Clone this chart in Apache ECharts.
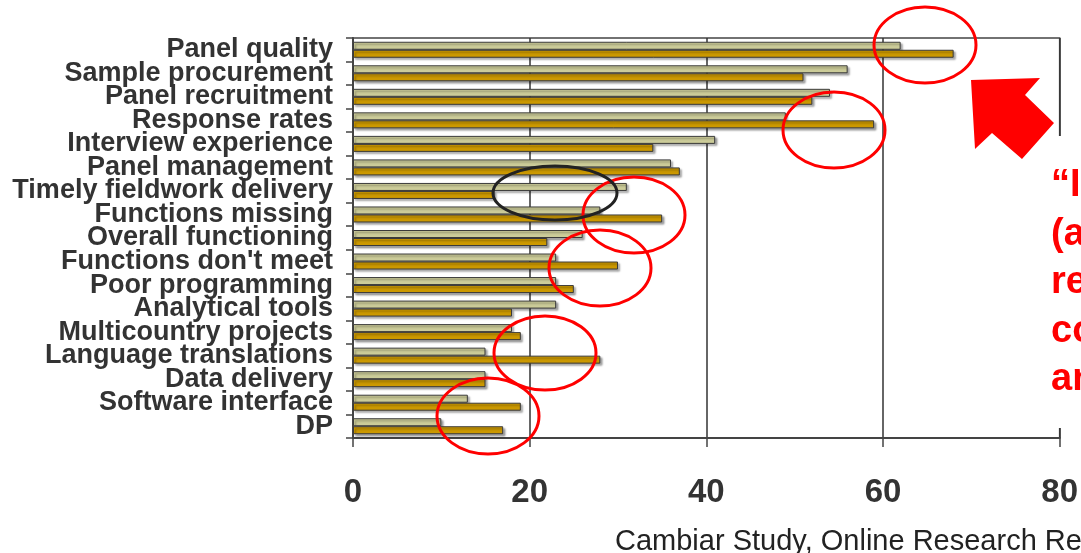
<!DOCTYPE html>
<html>
<head>
<meta charset="utf-8">
<script src="https://cdn.jsdelivr.net/npm/echarts@6/dist/echarts.min.js"></script>
<style>
html,body{margin:0;padding:0;background:#fff;}
#chart{width:1081px;height:553px;}
</style>
</head>
<body>
<div id="chart"></div>
<script>
// ---- data ----
var categories = ["Panel quality","Sample procurement","Panel recruitment","Response rates","Interview experience","Panel management","Timely fieldwork delivery","Functions missing","Overall functioning","Functions don't meet","Poor programming","Analytical tools","Multicountry projects","Language translations","Data delivery","Software interface","DP"];
var seriesLight = [62, 56, 54, 49, 41, 36, 31, 28, 26, 23, 23, 23, 18, 15, 15, 13, 10];
var seriesGold  = [68, 51, 52, 59, 34, 37, 16, 35, 22, 30, 25, 18, 19, 28, 15, 19, 17];
var xTicks = [0, 20, 40, 60, 80];
var calloutLines = ["\u201CI", "(a", "re", "co", "an"];
var sourceNote = "Cambiar Study, Online Research Re";

var FONT = '"Liberation Sans", Arial, sans-serif';
var chart = echarts.init(document.getElementById('chart'), null, {renderer: 'canvas'});

function barStyle(color) {
  return {
    color: color,
    borderColor: '#3a3a3a',
    borderWidth: 1,
    shadowColor: 'rgba(0,0,0,0.35)',
    shadowBlur: 2,
    shadowOffsetX: 2,
    shadowOffsetY: 2
  };
}

var redRing = function (cx, cy, rx, ry, color) {
  return {
    type: 'ellipse', z: 100,
    shape: {cx: cx, cy: cy, rx: rx, ry: ry},
    style: {fill: null, stroke: color || '#ff0000', lineWidth: 3}
  };
};

var graphics = [
  redRing(925, 45, 51, 38),
  redRing(834, 130, 51, 38),
  redRing(634, 215, 51, 38),
  redRing(600, 268, 51, 38),
  redRing(545, 353, 51, 37),
  redRing(488, 416, 51, 38),
  redRing(555, 193, 62, 27, '#222222'),
  {
    type: 'polygon', z: 100,
    shape: {points: [[971,80],[1040,78],[1025,95],[1054,123],[1022,159],[992,133],[975,149]]},
    style: {fill: '#ff0000'}
  },
  {
    type: 'rect', z: 90,
    shape: {x: 1030, y: 136, width: 60, height: 292},
    style: {fill: '#ffffff'}
  },
  {
    type: 'text', z: 110, left: 615, top: 527,
    style: {text: sourceNote, font: '29px ' + FONT, fill: '#222'}
  }
];
calloutLines.forEach(function (t, i) {
  graphics.push({
    type: 'text', z: 110, left: 1051, top: 167 + i * 48.5,
    style: {text: t, font: 'bold 38px ' + FONT, fill: '#ff0000'}
  });
});

chart.setOption({
  animation: false,
  backgroundColor: '#fff',
  grid: {
    left: 353, right: 17, top: 38, bottom: 115,
    show: true, borderColor: '#444', borderWidth: 1.5, backgroundColor: 'transparent'
  },
  xAxis: {
    type: 'value', min: xTicks[0], max: xTicks[xTicks.length - 1], interval: 20,
    axisLine: {show: true, lineStyle: {color: '#444', width: 2}},
    axisTick: {show: true, length: 9, lineStyle: {color: '#444', width: 1.5}},
    splitLine: {show: true, lineStyle: {color: '#333', width: 1.5}},
    axisLabel: {margin: 38, color: '#333', fontWeight: 'bold', fontSize: 33, fontFamily: FONT}
  },
  yAxis: {
    type: 'category', data: categories, inverse: true,
    axisLine: {show: true, lineStyle: {color: '#444', width: 2}},
    axisTick: {show: true, length: 7, lineStyle: {color: '#444', width: 1.5}},
    splitLine: {show: false},
    axisLabel: {margin: 20, color: '#333', fontWeight: 'bold', fontSize: 27, fontFamily: FONT, interval: 0}
  },
  series: [
    {type: 'bar', name: 'A', data: seriesLight, barWidth: 8, barGap: '0%', itemStyle: barStyle('#cccc99')},
    {type: 'bar', name: 'B', data: seriesGold, barWidth: 8, barGap: '0%', itemStyle: barStyle('#cc9900')}
  ],
  graphic: graphics
});
</script>
</body>
</html>
